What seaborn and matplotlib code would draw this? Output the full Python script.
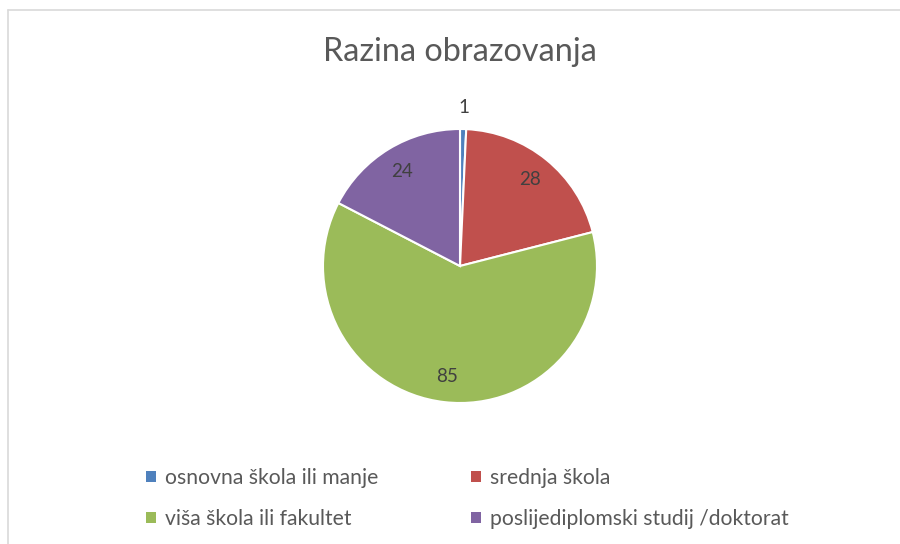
import matplotlib
matplotlib.use("Agg")
import matplotlib.pyplot as plt
import matplotlib.patches as mpatches
import numpy as np
import seaborn as sns

sns.set_theme(style="white")
plt.rcParams['font.family'] = ['Lato', 'DejaVu Sans']

title = "Razina obrazovanja"
categories = ["osnovna škola ili manje", "srednja škola",
              "viša škola ili fakultet", "poslijediplomski studij /doktorat"]
values = [1, 28, 85, 24]
colors = ["#4F81BD", "#C0504D", "#9BBB59", "#8064A2"]

W, H = 900, 544
fig = plt.figure(figsize=(W / 100, H / 100), dpi=100)
fig.patch.set_facecolor("white")

# chart border (top and left lines visible)
fig.add_artist(plt.Line2D([8 / W, 1.0], [1 - 10 / H, 1 - 10 / H], color="#D9D9D9", lw=1.2))
fig.add_artist(plt.Line2D([8 / W, 8 / W], [0, 1 - 10 / H], color="#D9D9D9", lw=1.2))

cx, cy, r = 460, 266, 137
ax = fig.add_axes([(cx - r) / W, (H - cy - r) / H, 2 * r / W, 2 * r / H])
wedges, _ = ax.pie(values, colors=colors, startangle=90, counterclock=False,
                   wedgeprops=dict(edgecolor="white", linewidth=1.5))
ax.set_xlim(-1, 1)
ax.set_ylim(-1, 1)
ax.set_aspect("equal")
ax.axis("off")

for w, v in zip(wedges, values):
    mid = np.deg2rad((w.theta1 + w.theta2) / 2)
    d = 1.16 if v / sum(values) < 0.03 else 0.81
    ax.text(d * np.cos(mid), d * np.sin(mid), str(v), ha="center", va="center",
            fontsize=13.5, color="#404040")

fig.text(cx / W, 1 - 52 / H, title, ha="center", va="center", fontsize=23.3, color="#595959")

handles = [mpatches.Patch(facecolor=c, edgecolor="none", label=l) for c, l in zip(colors, categories)]
# order so that rows are: [0,1], [2,3] with ncol=2 (column-major fill)
order = [0, 2, 1, 3]
leg = fig.legend([handles[i] for i in order], [categories[i] for i in order],
                 ncol=2, loc="center left", bbox_to_anchor=(146 / W, 1 - 498.5 / H),
                 frameon=False, fontsize=15.2, handlelength=0.45, handleheight=0.45,
                 handletextpad=0.45, columnspacing=4.4, labelspacing=1.0,
                 labelcolor="#595959", borderpad=0, borderaxespad=0)

fig.savefig("out.png", dpi=100, facecolor="white")
